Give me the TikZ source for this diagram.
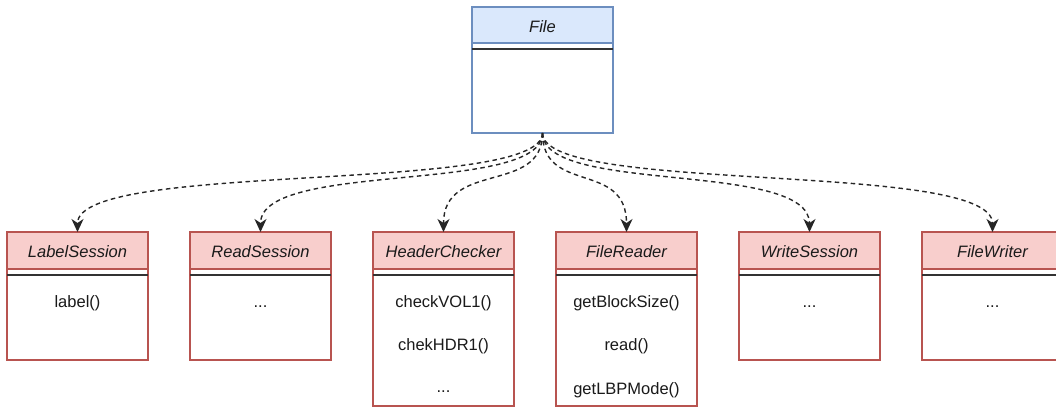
\documentclass[tikz,border=0pt]{standalone}
\usepackage{fontspec}
\setmainfont{Liberation Sans}
\usetikzlibrary{arrows.meta}
\definecolor{blueF}{HTML}{DAE8FC}
\definecolor{blueD}{HTML}{6C8EBF}
\definecolor{redF}{HTML}{F8CECC}
\definecolor{redD}{HTML}{B85450}
\definecolor{txt}{HTML}{1A1A1A}
\begin{document}
\begin{tikzpicture}[x=1pt,y=-1pt,
  body/.style={draw, line width=1.3pt, fill=white, minimum width=141pt, anchor=north west, inner sep=0pt, outer sep=0pt},
  hdr/.style={draw, line width=1.3pt, minimum width=141pt, anchor=north west, inner sep=0pt, outer sep=0pt},
  ttl/.style={anchor=base, inner sep=0pt, text=txt, font=\fontsize{16.5}{19}\selectfont\itshape},
  mth/.style={anchor=base, inner sep=0pt, text=txt, font=\fontsize{16.5}{19}\selectfont},
  sep/.style={line width=1.5pt, draw=black!80},
  dep/.style={line width=1.4pt, draw=black!85, dash pattern=on 4.5pt off 3.5pt, -{Stealth[length=13pt,width=12pt,inset=4pt]}},
]
\useasboundingbox (0,0) rectangle (1056,407);
\clip (0,0) rectangle (1056,407);
\fill[white] (0,0) rectangle (1056,407);

% File
\node[body, draw=blueD, minimum height=126pt] (fileB) at (472,7) {};
\node[hdr, draw=blueD, fill=blueF, minimum height=36pt] (fileH) at (472,7) {};
\node[ttl] (fileT) at (542.5,32) {File};
\draw[sep] (472,49) -- (613,49);

% LabelSession
\node[body, draw=redD, minimum height=128pt] (lsB) at (7,232) {};
\node[hdr, draw=redD, fill=redF, minimum height=37pt] (lsH) at (7,232) {};
\node[ttl] (lsT) at (77.5,257.3) {LabelSession};
\draw[sep] (7,275) -- (148,275);
\node[mth] (ls1) at (77.5,307.3) {label()};

% ReadSession
\node[body, draw=redD, minimum height=128pt] (rsB) at (190,232) {};
\node[hdr, draw=redD, fill=redF, minimum height=37pt] (rsH) at (190,232) {};
\node[ttl] (rsT) at (260.5,257.3) {ReadSession};
\draw[sep] (190,275) -- (331,275);
\node[mth] (rs1) at (260.5,307.3) {...};

% HeaderChecker
\node[body, draw=redD, minimum height=174pt] (hcB) at (373,232) {};
\node[hdr, draw=redD, fill=redF, minimum height=37pt] (hcH) at (373,232) {};
\node[ttl] (hcT) at (443.5,257.3) {HeaderChecker};
\draw[sep] (373,275) -- (514,275);
\node[mth] (hc1) at (443.5,307.3) {checkVOL1()};
\node[mth] (hc2) at (443.5,350.7) {chekHDR1()};
\node[mth] (hc3) at (443.5,392.5) {...};

% FileReader
\node[body, draw=redD, minimum height=174pt] (frB) at (556,232) {};
\node[hdr, draw=redD, fill=redF, minimum height=37pt] (frH) at (556,232) {};
\node[ttl] (frT) at (626.5,257.3) {FileReader};
\draw[sep] (556,275) -- (697,275);
\node[mth] (fr1) at (626.5,307.3) {getBlockSize()};
\node[mth] (fr2) at (626.5,350.7) {read()};
\node[mth] (fr3) at (626.5,394) {getLBPMode()};

% WriteSession
\node[body, draw=redD, minimum height=128pt] (wsB) at (739,232) {};
\node[hdr, draw=redD, fill=redF, minimum height=37pt] (wsH) at (739,232) {};
\node[ttl] (wsT) at (809.5,257.3) {WriteSession};
\draw[sep] (739,275) -- (880,275);
\node[mth] (ws1) at (809.5,307.3) {...};

% FileWriter
\node[body, draw=redD, minimum height=128pt] (fwB) at (922,232) {};
\node[hdr, draw=redD, fill=redF, minimum height=37pt] (fwH) at (922,232) {};
\node[ttl] (fwT) at (992.5,257.3) {FileWriter};
\draw[sep] (922,275) -- (1063,275);
\node[mth] (fw1) at (992.5,307.3) {...};

% dependencies
\foreach \t in {lsH,rsH,hcH,frH,wsH,fwH}{
  \draw[dep] (fileB.south) .. controls +(0,62) and +(0,-72) .. (\t.north);
}
\end{tikzpicture}
\end{document}
